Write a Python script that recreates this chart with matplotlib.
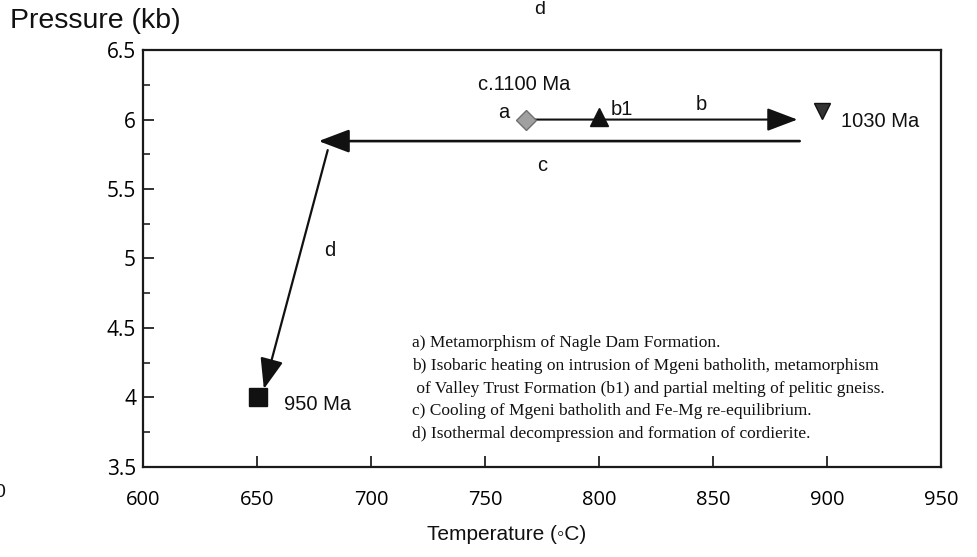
import numpy as np
import matplotlib
matplotlib.use("Agg")
import matplotlib.pyplot as plt
from matplotlib.ticker import MultipleLocator

# P-T path points (temperature in C, pressure in kb)
stage_a = (768, 6.0)       # c.1100 Ma, Nagle Dam Formation
stage_b1 = (800, 6.02)     # Valley Trust Formation
stage_1030 = (898, 6.06)   # 1030 Ma
stage_950 = (650.5, 4.0)   # 950 Ma

# path segments: (start T, start P, end T, end P)
path_b = (770, 6.0, 887, 6.0)
path_c = (888, 5.845, 677, 5.845)
path_d = (681, 5.78, 653, 4.06)

legend_lines = [
    "a) Metamorphism of Nagle Dam Formation.",
    "b) Isobaric heating on intrusion of Mgeni batholith, metamorphism",
    " of Valley Trust Formation (b1) and partial melting of pelitic gneiss.",
    "c) Cooling of Mgeni batholith and Fe-Mg re-equilibrium.",
    "d) Isothermal decompression and formation of cordierite.",
]

x_ticks = [600, 650, 700, 750, 800, 850, 900, 950]
y_ticks = [3.5, 4, 4.5, 5, 5.5, 6, 6.5]

sans = "Liberation Sans"
tickfont = "Open Sans"

fig = plt.figure(figsize=(9.77, 5.57), dpi=100)
ax = fig.add_axes([0.1464, 0.162, 0.8168, 0.748])

ax.set_xlim(600, 950)
ax.set_ylim(3.5, 6.5)
ax.set_xticks(x_ticks)
ax.set_yticks(y_ticks)
ax.set_yticklabels([f"{v:g}" for v in y_ticks], fontfamily=tickfont, fontsize=15)
ax.set_xticklabels([str(v) for v in x_ticks], fontfamily=tickfont, fontsize=14.5)
ax.yaxis.set_minor_locator(MultipleLocator(0.25))
ax.tick_params(axis="both", which="major", direction="in", length=8, width=1.3, color="#222222")
ax.tick_params(axis="y", which="minor", direction="in", length=5, width=1.2, color="#222222")
ax.tick_params(axis="x", pad=17)
ax.tick_params(axis="y", pad=5)
for sp in ax.spines.values():
    sp.set_linewidth(1.6)
    sp.set_color("#1a1a1a")

# arrows for the path
def arrow(seg, lw):
    x0, y0, x1, y1 = seg
    ax.annotate("", xy=(x1, y1), xytext=(x0, y0),
                arrowprops=dict(arrowstyle="-|>,head_length=1.45,head_width=0.55",
                                mutation_scale=13, lw=lw, color="#111111",
                                shrinkA=0, shrinkB=0))

arrow(path_b, 1.5)
arrow(path_c, 1.9)
arrow(path_d, 1.6)

# age markers
ax.plot(*stage_a, marker="D", markersize=10, color="#a0a0a0", mec="#707070", mew=1, zorder=5)
ax.plot(*stage_b1, marker="^", markersize=13, color="#111111", zorder=5)
ax.plot(*stage_1030, marker="v", markersize=11.5, color="#333333", mec="#111111", zorder=5)
ax.plot(*stage_950, marker="s", markersize=13, color="#111111", zorder=5)

lab = dict(fontfamily=sans, fontsize=14.5, color="#111111")
ax.text(767, 6.25, "c.1100 Ma", ha="center", va="center", **lab)
ax.text(758, 6.05, "a", ha="center", va="center", **lab)
ax.text(810, 6.07, "b1", ha="center", va="center", **lab)
ax.text(845, 6.11, "b", ha="center", va="center", **lab)
ax.text(906, 5.985, "1030 Ma", ha="left", va="center", **lab)
ax.text(775, 5.67, "c", ha="center", va="center", **lab)
ax.text(682, 5.06, "d", ha="center", va="center", **lab)
ax.text(662, 3.95, "950 Ma", ha="left", va="center", **lab)

# stage descriptions
y0 = 4.39
for i, line in enumerate(legend_lines):
    ax.text(718, y0 - i * 0.164, line, ha="left", va="center",
            fontfamily="Liberation Serif", fontsize=12.5, color="#111111")

fig.text(0.01, 0.962, "Pressure (kb)", ha="left", va="center",
         fontfamily=sans, fontsize=20.5, color="#111111")
fig.text(0.519, 0.04, "Temperature (\u25e6C)", ha="center", va="center",
         fontfamily=sans, fontsize=15, color="#111111")
fig.text(0.552, 0.983, "d", ha="center", va="center",
         fontfamily=sans, fontsize=14, color="#111111")
fig.text(0.0, 0.115, "0", ha="center", va="center",
         fontfamily=sans, fontsize=14, color="#111111")

fig.savefig("out.png", dpi=100, facecolor="white")
